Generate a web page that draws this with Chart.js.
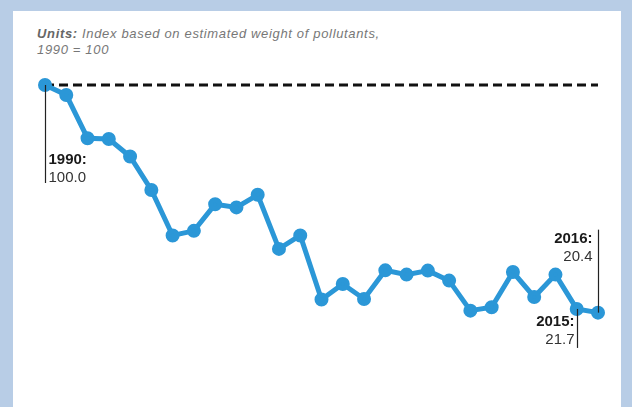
<!DOCTYPE html>
<html>
<head>
<meta charset="utf-8">
<script src="https://cdn.jsdelivr.net/npm/chart.js@4"></script>
<style>
    body { margin: 0; background: #b8cde6; width: 632px; height: 407px; overflow: hidden; font-family: "Liberation Sans", Arial, sans-serif; }
    #panel { position: absolute; left: 13px; top: 11px; width: 608px; height: 396px; background: #fff; }
    #units { position: absolute; left: 37px; top: 26px; font-size: 13px; line-height: 16px; letter-spacing: 0.66px; color: #777; font-style: italic; }
    #units b { color: #666; }
    #chart { position: absolute; left: 0; top: 0; }
</style>
</head>
<body>
<div id="panel"></div>
<div id="units"><b>Units:</b> Index based on estimated weight of pollutants,<br>1990 = 100</div>
<canvas id="chart" width="632" height="407"></canvas>
<script>
// Index values
const years = ['1990', '1991', '1992', '1993', '1994', '1995', '1996', '1997', '1998',
    '1999', '2000', '2001', '2002', '2003', '2004', '2005', '2006', '2007', '2008',
    '2009', '2010', '2011', '2012', '2013', '2014', '2015', '2016'];
const pollution = [100.0, 96.5, 81.4, 81.1, 75.0, 63.3, 47.4, 49.0, 58.3,
    57.2, 61.6, 42.7, 47.4, 25.0, 30.4, 25.2, 35.2, 33.7, 35.1,
    31.6, 21.1, 22.3, 34.6, 25.9, 33.7, 21.7, 20.4];
const baseline = years.map(() => 100);

// callouts: year, text side, gap to line, line top / bottom and text baseline offsets from the point
const callouts = [
    { year: '1990', side: 'right', gap: 3, from: 0, to: 98, text: 79 },
    { year: '2016', side: 'left', gap: 6, from: -83, to: 0, text: -70 },
    { year: '2015', side: 'left', gap: 3, from: 0, to: 39, text: 17 }
];

const calloutPlugin = {
    id: 'callouts',
    afterDatasetsDraw(chart) {
        const ctx = chart.ctx;
        const x = chart.scales.x;
        const y = chart.scales.y;
        ctx.save();
        callouts.forEach(c => {
            const i = years.indexOf(c.year);
            const px = Math.round(x.getPixelForValue(i)) + 0.5;
            const py = y.getPixelForValue(pollution[i]);
            ctx.strokeStyle = '#222';
            ctx.lineWidth = 1.2;
            ctx.beginPath();
            ctx.moveTo(px, py + c.from);
            ctx.lineTo(px, py + c.to);
            ctx.stroke();

            const tx = c.side === 'right' ? px + c.gap : px - c.gap;
            ctx.textAlign = c.side === 'right' ? 'left' : 'right';
            ctx.textBaseline = 'alphabetic';
            ctx.fillStyle = '#1a1a1a';
            ctx.font = 'bold 15px "Liberation Sans", Arial, sans-serif';
            ctx.fillText(c.year + ':', tx, py + c.text);
            ctx.fillStyle = '#333';
            ctx.font = '15px "Liberation Sans", Arial, sans-serif';
            ctx.fillText(pollution[i].toFixed(1), tx, py + c.text + 18);
        });
        ctx.restore();
    }
};

new Chart(document.getElementById('chart'), {
    type: 'line',
    data: {
        labels: years,
        datasets: [{
            data: pollution,
            borderColor: '#2b97d7',
            backgroundColor: '#2b97d7',
            borderWidth: 5,
            pointRadius: 4.5,
            pointHoverRadius: 4.5,
            tension: 0,
            clip: false,
            order: 1
        }, {
            data: baseline,
            borderColor: '#111',
            borderWidth: 3,
            borderDash: [9, 5],
            pointRadius: 0,
            clip: false,
            order: 2
        }]
    },
    options: {
        responsive: false,
        animation: false,
        layout: {
            padding: { left: 45, right: 34, top: 85, bottom: 36 }
        },
        plugins: {
            legend: { display: false },
            tooltip: { enabled: false }
        },
        scales: {
            x: { display: false, offset: false },
            y: { display: false, min: 0, max: 100 }
        }
    },
    plugins: [calloutPlugin]
});
</script>
</body>
</html>
